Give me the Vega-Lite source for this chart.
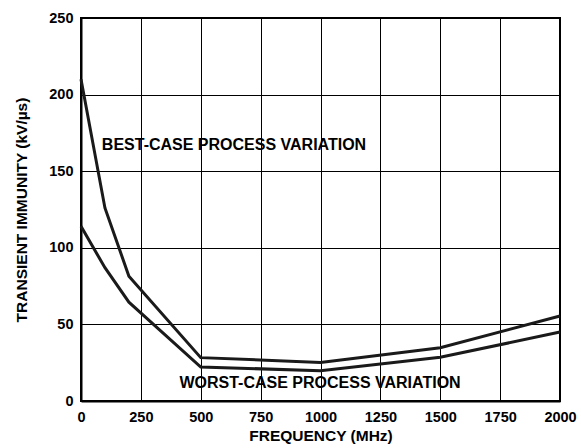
{
  "$schema": "https://vega.github.io/schema/vega-lite/v6.json",
  "width": 479,
  "height": 383,
  "autosize": {"type": "none"},
  "padding": {"left": 81, "top": 18, "right": 21, "bottom": 47},
  "background": "white",
  "config": {
    "view": {"stroke": "black", "strokeWidth": 2},
    "font": "Liberation Sans",
    "axis": {
      "labelFont": "Liberation Sans", "labelFontWeight": "bold", "labelFontSize": 14.5, "labelColor": "black",
      "titleFont": "Liberation Sans", "titleFontWeight": "bold", "titleFontSize": 15.5, "titleColor": "black",
      "gridColor": "black", "gridWidth": 1, "gridOpacity": 1,
      "domainColor": "black", "domainWidth": 2, "ticks": false
    }
  },
  "datasets": {
    "curves": [
      {"freq": 0, "immunity": 210, "series": "best"},
      {"freq": 100, "immunity": 126, "series": "best"},
      {"freq": 200, "immunity": 81.5, "series": "best"},
      {"freq": 500, "immunity": 28.3, "series": "best"},
      {"freq": 1000, "immunity": 25.2, "series": "best"},
      {"freq": 1500, "immunity": 34.8, "series": "best"},
      {"freq": 2000, "immunity": 55.5, "series": "best"},
      {"freq": 0, "immunity": 114, "series": "worst"},
      {"freq": 100, "immunity": 87, "series": "worst"},
      {"freq": 200, "immunity": 64.5, "series": "worst"},
      {"freq": 500, "immunity": 22.2, "series": "worst"},
      {"freq": 1000, "immunity": 19.8, "series": "worst"},
      {"freq": 1500, "immunity": 28.5, "series": "worst"},
      {"freq": 2000, "immunity": 45, "series": "worst"}
    ],
    "labels": [
      {"freq": 87, "immunity": 167, "text": "BEST-CASE PROCESS VARIATION"},
      {"freq": 411, "immunity": 12, "text": "WORST-CASE PROCESS VARIATION"}
    ]
  },
  "layer": [
    {
      "data": {"name": "curves"},
      "mark": {"type": "line", "color": "#1a1a1a", "strokeWidth": 3},
      "encoding": {
        "x": {"field": "freq", "type": "quantitative", "scale": {"domain": [0, 2000], "nice": false},
              "axis": {"values": [0,250,500,750,1000,1250,1500,1750,2000], "format": "d", "title": "FREQUENCY (MHz)", "labelPadding": 9, "titlePadding": 5, "labelFlush": false}},
        "y": {"field": "immunity", "type": "quantitative", "scale": {"domain": [0, 250], "nice": false},
              "axis": {"values": [0,50,100,150,200,250], "title": "TRANSIENT IMMUNITY (kV/µs)", "labelPadding": 8, "titlePadding": 19, "labelFlush": false}},
        "detail": {"field": "series", "type": "nominal"}
      }
    },
    {
      "data": {"name": "labels"},
      "mark": {"type": "text", "align": "left", "baseline": "middle", "font": "Liberation Sans", "fontWeight": "bold", "fontSize": 16, "color": "black"},
      "encoding": {
        "x": {"field": "freq", "type": "quantitative"},
        "y": {"field": "immunity", "type": "quantitative"},
        "text": {"field": "text", "type": "nominal"}
      }
    }
  ]
}
